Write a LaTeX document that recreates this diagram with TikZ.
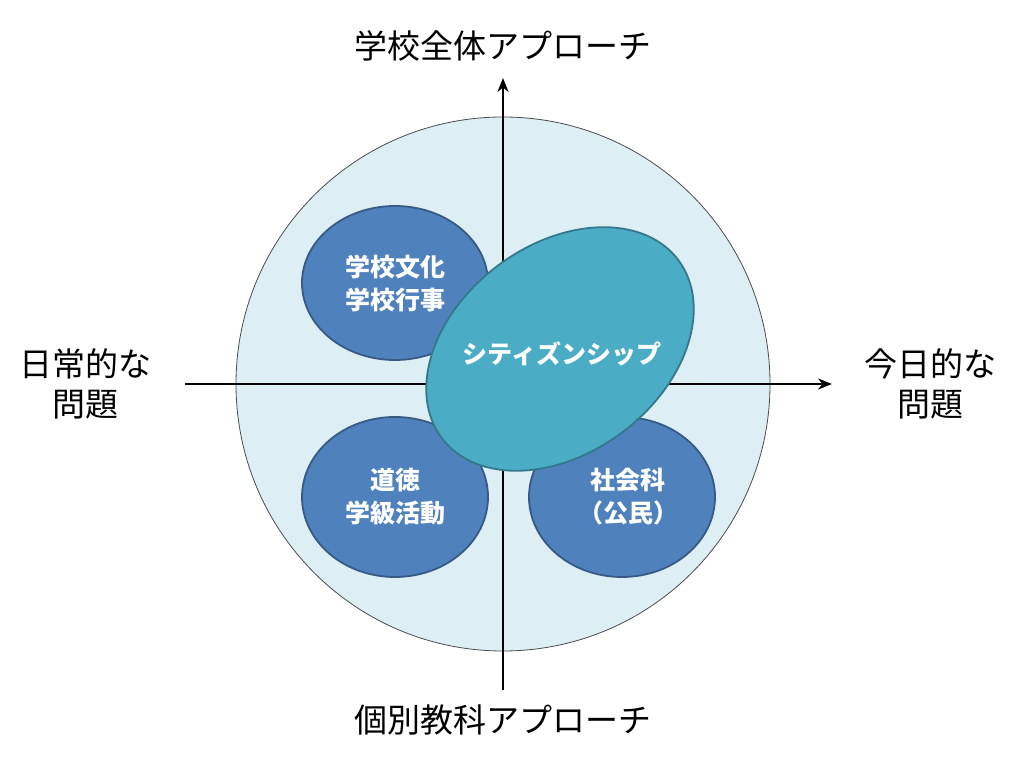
\documentclass[tikz,border=0pt]{standalone}
\usepackage{fontspec}
\usetikzlibrary{arrows.meta}
\newfontfamily\cjk{Noto Sans CJK JP}
\begin{document}
\begin{tikzpicture}[x=1pt,y=1pt,
  lab/.style={font=\cjk\fontsize{33}{40}\selectfont,align=center,text=black},
  inner/.style={font=\cjk\bfseries\fontsize{25}{33}\selectfont,align=center,text=white},
  blob/.style={line width=1.8pt,fill=ellc,draw=ellc!70!black}]
\definecolor{bigc}{HTML}{DDEEF4}
\definecolor{ellc}{HTML}{4F81BD}
\definecolor{cenc}{HTML}{4BACC6}
\useasboundingbox (0,0) rectangle (1024,768);
\fill[white] (0,0) rectangle (1024,768);
\node[circle,draw=black!70,fill=bigc,line width=0.8pt,minimum size=534pt,inner sep=0] (big) at (503,384) {};
\draw[blob] (395,485) ellipse [x radius=93,y radius=77];
\node[inner] (tl) at (395,485) {学校文化\\学校行事};
\draw[blob] (395,271) ellipse [x radius=93,y radius=80];
\node[inner] (bl) at (395,271) {道徳\\学級活動};
\draw[blob] (622,271) ellipse [x radius=93,y radius=80];
\node[inner] (br) at (628,271) {社会科\\（公民）};
\coordinate (vb) at (503,78);
\coordinate (vt) at (503,690);
\coordinate (hl) at (185,384);
\coordinate (hr) at (832,384);
\draw[line width=2.4pt,-{Stealth[length=14pt,width=11pt]}] (vb) -- (vt);
\draw[line width=2.4pt,-{Stealth[length=14pt,width=11pt]}] (hl) -- (hr);
\draw[line width=1.8pt,draw=cenc!70!black,fill=cenc,rotate around={37:(560,419)}] (560,419) ellipse [x radius=148,y radius=104];
\node[inner] (c) at (562,414) {シティズンシップ};
\node[lab] (top) at (503,722) {学校全体アプローチ};
\node[lab] (bot) at (503,48) {個別教科アプローチ};
\node[lab] (left) at (85,384) {日常的な\\問題};
\node[lab] (right) at (930,384) {今日的な\\問題};
\end{tikzpicture}
\end{document}
